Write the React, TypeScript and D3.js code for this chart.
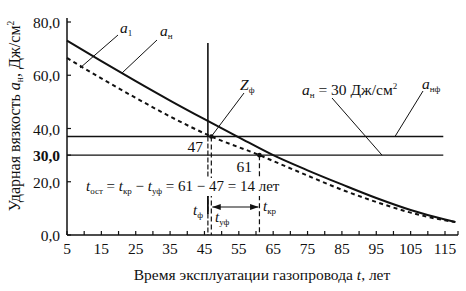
import React from "react";
import * as d3 from "d3";

// Impact toughness of the pipe metal vs. service time
const yearsN = [5, 15, 25, 35, 45, 55, 65, 75, 85, 95, 105, 115, 118];
const toughnessN = [73, 65.3, 57.8, 50.5, 43.5, 36.7, 30, 24.3, 19, 13.9, 9.4, 5.8, 4.9];

const years1 = [5, 15, 25, 35, 47, 61, 65, 75, 85, 95, 105, 115, 118];
const toughness1 = [66.5, 58.8, 51.5, 44.5, 37, 30, 27.8, 22.3, 17, 12.4, 8.4, 5.5, 4.9];

const xTickLabels = [5, 15, 25, 35, 45, 55, 65, 75, 85, 95, 105, 115];
const xMinorTicks = d3.range(5, 120, 5);
const yTickValues = [0, 20, 30, 40, 60, 80];
const yTickLabels = ["0,0", "20,0", "30,0", "40,0", "60,0", "80,0"];

const actualLevel = 37; // a_нф
const criticalLevel = 30; // a_н = 30
const tF = 46;
const tUF = 47;
const tKR = 61;

const FONT = "'Liberation Serif', 'DejaVu Serif', serif";

export default function App() {
  const x = d3.scaleLinear().domain([5, 115]).range([67, 445]);
  const y = d3.scaleLinear().domain([0, 80]).range([235, 22]);

  const line = d3
    .line<[number, number]>()
    .x((d) => x(d[0]))
    .y((d) => y(d[1]))
    .curve(d3.curveMonotoneX);

  const pathN = line(yearsN.map((t, i) => [t, toughnessN[i]]) as [number, number][]) || "";
  const path1 = line(years1.map((t, i) => [t, toughness1[i]]) as [number, number][]) || "";

  const axisEnd = 458;
  const x0 = x(5);
  const y0 = y(0);

  const sub = (s: string, size = 10) => (
    <tspan fontStyle="normal" fontSize={size} dy={3}>
      {s}
    </tspan>
  );

  const arrowY = 207;

  return (
    <svg
      width={466}
      height={291}
      style={{ position: "absolute", left: 0, top: 0, background: "#fff" }}
      fontFamily={FONT}
    >
      <defs>
        <marker id="arr" viewBox="0 0 10 10" refX="10" refY="5" markerWidth="7" markerHeight="7" orient="auto-start-reverse">
          <path d="M0,1.5 L10,5 L0,8.5 Z" fill="#111" />
        </marker>
      </defs>
      <rect width={466} height={291} fill="#fff" />

      {/* axes */}
      <line x1={x0} x2={axisEnd} y1={y0} y2={y0} stroke="#111" strokeWidth={1.5} />
      <line x1={x0} x2={x0} y1={18} y2={y0} stroke="#111" strokeWidth={1.5} />
      {xMinorTicks.map((t) => (
        <line key={"xt" + t} x1={x(t)} x2={x(t)} y1={y0} y2={y0 - 4} stroke="#111" strokeWidth={1.2} />
      ))}
      <line x1={axisEnd} x2={axisEnd} y1={y0} y2={y0 - 4} stroke="#111" strokeWidth={1.2} />
      {xTickLabels.map((t) => (
        <text key={"xl" + t} x={x(t)} y={254} textAnchor="middle" fontSize={15.5} fill="#111">
          {t}
        </text>
      ))}
      {yTickValues.map((v, i) => (
        <g key={"yt" + v}>
          <line x1={x0} x2={x0 + 4} y1={y(v)} y2={y(v)} stroke="#111" strokeWidth={1.2} />
          <text
            x={60}
            y={y(v) + 6}
            textAnchor="end"
            fontSize={15.5}
            fontWeight={v === criticalLevel ? "bold" : "normal"}
            fill="#111"
          >
            {yTickLabels[i]}
          </text>
        </g>
      ))}

      {/* axis titles */}
      <text x={262} y={280} textAnchor="middle" fontSize={15.5} fill="#111">
        Время эксплуатации газопровода <tspan fontStyle="italic">t</tspan>, лет
      </text>
      <text transform={`translate(20,116) rotate(-90)`} textAnchor="middle" fontSize={16} fill="#111">
        Ударная вязкость <tspan fontStyle="italic">a</tspan>
        <tspan fontSize={9.5} dy={3}>н</tspan>
        <tspan dy={-3}>, Дж/см</tspan>
        <tspan fontSize={9.5} dy={-6}>2</tspan>
      </text>

      {/* threshold lines */}
      <line x1={x0} x2={x(114.5)} y1={y(actualLevel)} y2={y(actualLevel)} stroke="#111" strokeWidth={1.4} />
      <line x1={x0} x2={x(114.5)} y1={y(criticalLevel)} y2={y(criticalLevel)} stroke="#111" strokeWidth={1.4} />

      {/* vertical markers */}
      <line x1={x(tF)} x2={x(tF)} y1={43} y2={y(actualLevel)} stroke="#111" strokeWidth={1.6} />
      <line x1={x(tF)} x2={x(tF)} y1={y(actualLevel)} y2={y0} stroke="#111" strokeWidth={1.2} strokeDasharray="5,2" />
      <line x1={x(tF)} x2={x(tF)} y1={196} y2={214} stroke="#111" strokeWidth={1.8} />
      <line x1={x(tUF)} x2={x(tUF)} y1={y(actualLevel)} y2={y0} stroke="#111" strokeWidth={1.2} strokeDasharray="5,3" />
      <line x1={x(tKR)} x2={x(tKR)} y1={y(criticalLevel)} y2={y0} stroke="#111" strokeWidth={1.2} strokeDasharray="5,3" />

      {/* curves */}
      <path d={pathN} fill="none" stroke="#111" strokeWidth={2} />
      <path d={path1} fill="none" stroke="#111" strokeWidth={2} strokeDasharray="4,3.5" />

      {/* key points */}
      <circle cx={x(tUF)} cy={y(actualLevel)} r={2.3} fill="#111" />
      <circle cx={x(tKR)} cy={y(criticalLevel)} r={2.3} fill="#111" />

      {/* residual life arrow */}
      <line
        x1={x(tUF) + 1}
        x2={x(tKR) - 1}
        y1={arrowY}
        y2={arrowY}
        stroke="#111"
        strokeWidth={1.2}
        markerStart="url(#arr)"
        markerEnd="url(#arr)"
      />

      {/* point labels */}
      <text x={203} y={152} textAnchor="end" fontSize={15.5} fill="#111">{tUF}</text>
      <text x={252} y={172} textAnchor="end" fontSize={15.5} fill="#111">{tKR}</text>

      <text x={193} y={215} fontSize={15} fontStyle="italic" fill="#111">
        t{sub("ф", 9)}
      </text>
      <text x={215} y={222} fontSize={15} fontStyle="italic" fill="#111">
        t{sub("уф", 9)}
      </text>
      <text x={263} y={211} fontSize={15} fontStyle="italic" fill="#111">
        t{sub("кр", 9)}
      </text>

      {/* residual life formula on a white plate over the marker lines */}
      <rect x={180} y={178} width={100} height={18} fill="#fff" />
      <text x={86} y={191} fontSize={15} fill="#111">
        <tspan fontStyle="italic">t</tspan>
        <tspan fontSize={9} dy={3}>ост</tspan>
        <tspan dy={-3}> = </tspan>
        <tspan fontStyle="italic">t</tspan>
        <tspan fontSize={9} dy={3}>кр</tspan>
        <tspan dy={-3}> − </tspan>
        <tspan fontStyle="italic">t</tspan>
        <tspan fontSize={9} dy={3}>уф</tspan>
        <tspan dy={-3}> = 61 − 47 = 14 лет</tspan>
      </text>

      {/* curve labels with leaders */}
      <line x1={118} y1={35} x2={80} y2={68} stroke="#111" strokeWidth={1} />
      <text x={120} y={33} fontSize={15.5} fontStyle="italic" fill="#111">
        a{sub("1", 9)}
      </text>
      <line x1={157} y1={40} x2={122} y2={73} stroke="#111" strokeWidth={1} />
      <text x={160} y={36} fontSize={15.5} fontStyle="italic" fill="#111">
        a{sub("н", 9)}
      </text>

      <line x1={244} y1={93} x2={x(tUF)} y2={y(actualLevel)} stroke="#111" strokeWidth={1} />
      <text x={240} y={90} fontSize={15.5} fontStyle="italic" fill="#111">
        Z{sub("ф", 9)}
      </text>

      <line x1={332} y1={98} x2={382} y2={y(criticalLevel)} stroke="#111" strokeWidth={1} />
      <text x={302} y={95} fontSize={15.5} fill="#111">
        <tspan fontStyle="italic">a</tspan>
        <tspan fontSize={9} dy={3}>н</tspan>
        <tspan dy={-3}> = 30 Дж/см</tspan>
        <tspan fontSize={9} dy={-6}>2</tspan>
      </text>

      <line x1={423} y1={91} x2={395} y2={y(actualLevel)} stroke="#111" strokeWidth={1} />
      <text x={422} y={89} fontSize={15.5} fontStyle="italic" fill="#111">
        a{sub("нф", 9)}
      </text>
    </svg>
  );
}
